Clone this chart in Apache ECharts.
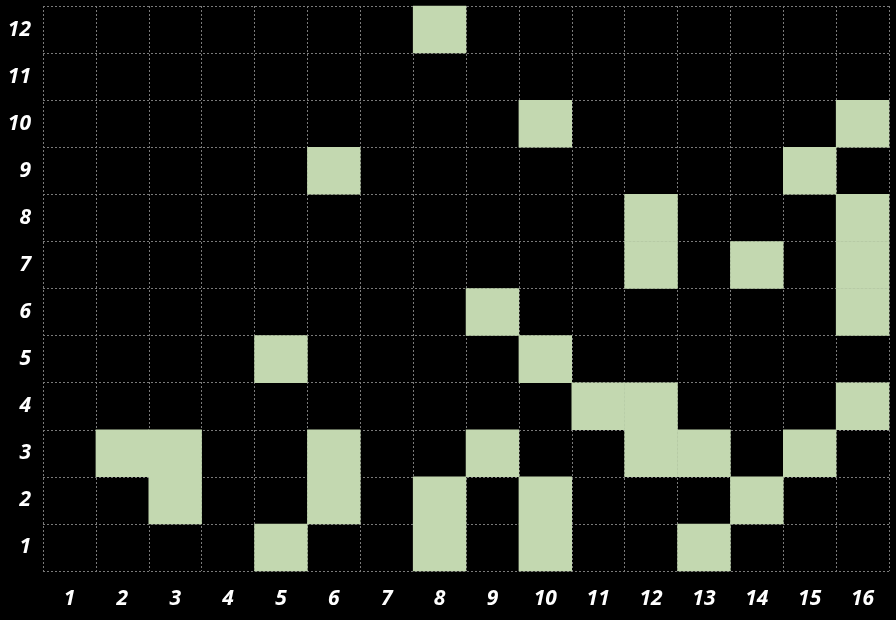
<!DOCTYPE html>
<html><head><meta charset="utf-8">
<script src="https://cdn.jsdelivr.net/npm/echarts@6/dist/echarts.min.js"></script>
<style>html,body{margin:0;padding:0;background:#000}#c{width:896px;height:620px}</style>
</head><body><div id="c"></div>
<script>
const xCategories = ['1','2','3','4','5','6','7','8','9','10','11','12','13','14','15','16'];
const yCategories = ['1','2','3','4','5','6','7','8','9','10','11','12'];
// filled cells per row (row label -> list of column labels)
const row1 = [5, 8, 10, 13];
const row2 = [3, 6, 8, 10, 14];
const row3 = [2, 3, 6, 9, 12, 13, 15];
const row4 = [11, 12, 16];
const row5 = [5, 10];
const row6 = [9, 16];
const row7 = [12, 14, 16];
const row8 = [12, 16];
const row9 = [6, 15];
const row10 = [10, 16];
const row11 = [];
const row12 = [8];
const rows = [row1,row2,row3,row4,row5,row6,row7,row8,row9,row10,row11,row12];

const data = [];
rows.forEach((r, yi) => r.forEach(c => data.push([c - 1, yi, 1])));

const labelStyle = {color:'#fff', fontFamily:'Open Sans', fontWeight:'bold', fontStyle:'italic', fontSize:21};
const chart = echarts.init(document.getElementById('c'));
chart.setOption({
  backgroundColor:'#000',
  animation:false,
  grid:{left:43, top:6, width:846, height:565},
  xAxis:{type:'category', data:xCategories, axisLine:{show:false}, axisTick:{show:false},
    axisLabel:Object.assign({margin:18}, labelStyle),
    splitLine:{show:true, interval:0, lineStyle:{color:'#7a7a7a', type:[2,2], width:1}}},
  yAxis:{type:'category', data:yCategories, axisLine:{show:false}, axisTick:{show:false},
    axisLabel:Object.assign({margin:12, padding:[9,0,0,0]}, labelStyle),
    splitLine:{show:true, interval:0, lineStyle:{color:'#7a7a7a', type:[2,2], width:1}}},
  visualMap:{show:false, min:0, max:1, inRange:{color:['#c3d8b0','#c3d8b0']}},
  series:[{type:'heatmap', data:data, itemStyle:{borderWidth:0}}]
});
</script></body></html>
